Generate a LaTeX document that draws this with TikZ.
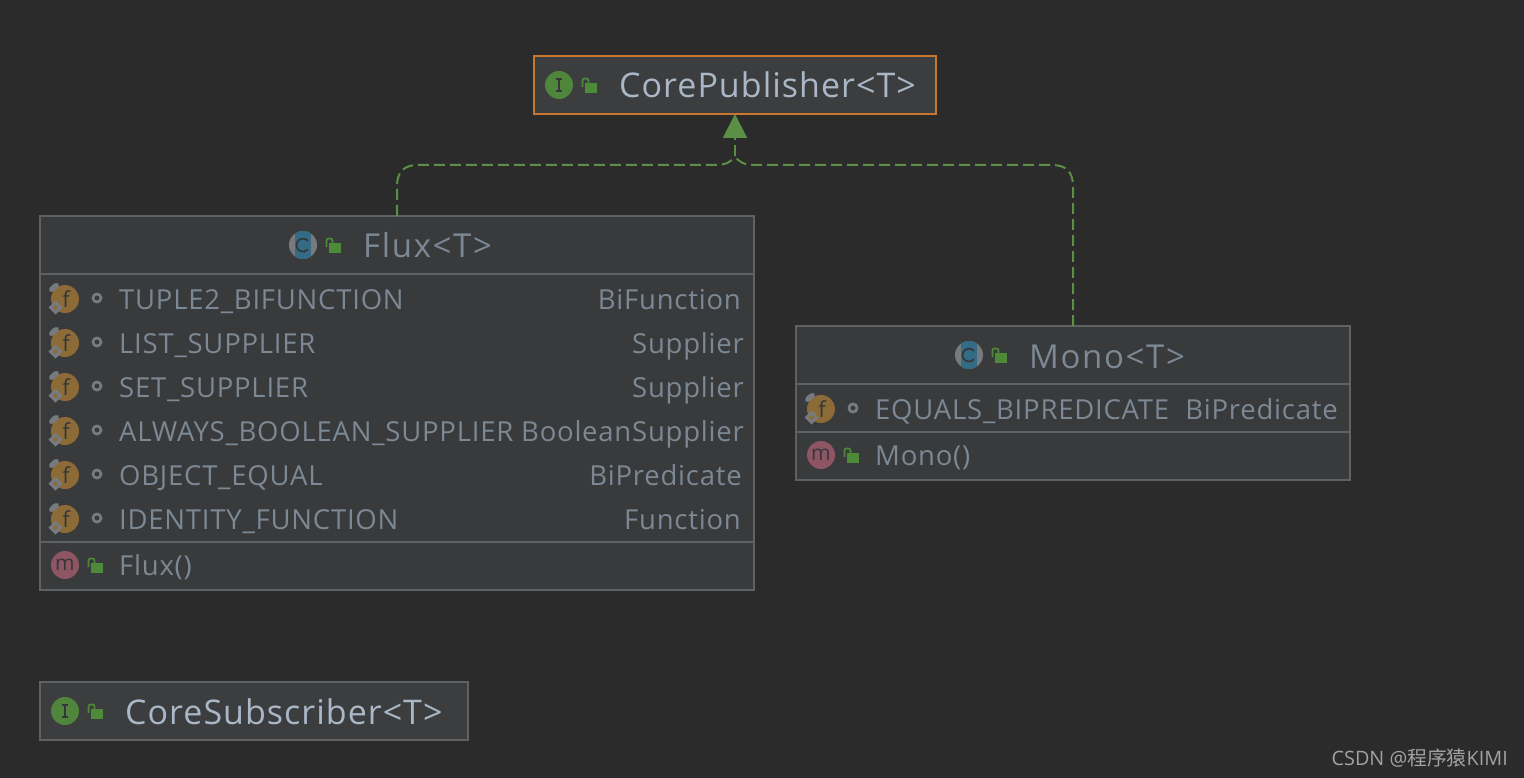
\documentclass[tikz,border=0pt]{standalone}
\usepackage{fontspec}
\usetikzlibrary{arrows.meta}
\newfontfamily\brightfont[LetterSpace=3]{Open Sans}
\newfontfamily\dimtitlefont[LetterSpace=5]{Open Sans}
\newfontfamily\rowfont[LetterSpace=2.8]{Open Sans}
\newfontfamily\wmfont{Open Sans}
\newfontfamily\cjkfont{Noto Sans CJK SC}
\definecolor{bgc}{HTML}{2B2B2B}
\definecolor{boxc}{HTML}{393A3C}
\definecolor{corec}{HTML}{3C3D3F}
\definecolor{edgec}{HTML}{5F6162}
\definecolor{orangec}{HTML}{C9772F}
\definecolor{titlec}{HTML}{A9B7C6}
\definecolor{dimc}{HTML}{7C8894}
\definecolor{greenc}{HTML}{5B8F45}
\definecolor{lockc}{HTML}{4F8A3A}
\definecolor{ifacec}{HTML}{4F863C}
\definecolor{fieldc}{HTML}{8C6B37}
\definecolor{methodc}{HTML}{8E5565}
\definecolor{classc}{HTML}{356C85}
\definecolor{iconink}{HTML}{35373A}
\definecolor{graybit}{HTML}{777A7E}
\definecolor{wmc}{HTML}{A2A2A2}
\tikzset{
  x=1pt,y=-1pt,
  umlbox/.style={draw=edgec,line width=2pt,fill=boxc,inner sep=0pt,outer sep=0pt},
  selbox/.style={draw=orangec,line width=2pt,fill=corec,inner sep=0pt,outer sep=0pt},
  plainbox/.style={draw=edgec,line width=2pt,fill=corec,inner sep=0pt,outer sep=0pt},
  sepline/.style={draw=edgec,line width=2pt},
  brighttitle/.style={inner sep=0pt,text=titlec,font=\brightfont\fontsize{34}{34}\selectfont},
  dimtitle/.style={inner sep=0pt,text=dimc,font=\dimtitlefont\fontsize{33}{33}\selectfont},
  rowtext/.style={inner sep=0pt,text=dimc,anchor=base west,font=\rowfont\fontsize{27.5}{27.5}\selectfont},
  typetext/.style={inner sep=0pt,text=dimc,anchor=base east,font=\rowfont\fontsize{27.5}{27.5}\selectfont},
  dep/.style={draw=greenc,line width=2pt,dash pattern=on 11pt off 5pt},
  deptip/.style={draw=greenc,line width=2pt,-{Triangle[length=24pt,width=24pt,fill=greenc]}},
}
% lock icon: (x,y) = centre reference of the padlock
\newcommand{\lockicon}[2]{%
  \fill[lockc] (#1-5,#2-4) rectangle (#1+7,#2+6);
  \draw[lockc,line width=1.7pt,rounded corners=2pt] (#1-7.5,#2+0) -- (#1-7.5,#2-8.5) -- (#1-1.5,#2-8.5) -- (#1-1.5,#2-4);
}
\newcommand{\fieldicon}[2]{%
  \fill[fieldc] (#1,#2) circle (14);
  \node[inner sep=0pt,text=iconink,font=\wmfont\fontsize{22}{22}\selectfont] at (#1+1,#2) {f};
  \fill[graybit,rotate around={40:(#1-11,#2-11.5)}] (#1-11,#2-11.5) ellipse (6 and 3);
  \fill[graybit] (#1-9.5,#2+1.5) -- (#1-2.5,#2+8.5) -- (#1-9.5,#2+15.5) -- (#1-16.5,#2+8.5) -- cycle;
  \fill[fieldc] (#1-9.5,#2+6) -- (#1-7,#2+8.5) -- (#1-9.5,#2+11) -- (#1-12,#2+8.5) -- cycle;
  \fill[graybit] (#1+32,#2-1) circle (5.5);
  \fill[boxc] (#1+32,#2-1) circle (2.4);
}
\newcommand{\methodicon}[2]{%
  \fill[methodc] (#1,#2) circle (14);
  \node[inner sep=0pt,text=iconink,font=\wmfont\fontsize{21}{21}\selectfont] at (#1,#2) {m};
}
\newcommand{\classicon}[2]{%
  \fill[graybit] (#1,#2) circle (14);
  \begin{scope}
    \clip (#1,#2) circle (14);
    \fill[classc] (#1-8,#2-14) rectangle (#1+8,#2+14);
  \end{scope}
  \draw[iconink,line width=1.8pt] (#1+5,#2-4) arc (-40:-320:6.5);
}
\newcommand{\ifaceicon}[2]{%
  \fill[ifacec] (#1,#2) circle (14);
  \draw[iconink,line width=1.8pt] (#1,#2-6) -- (#1,#2+6) (#1-3,#2-6) -- (#1+3,#2-6) (#1-3,#2+6) -- (#1+3,#2+6);
}
\begin{document}
\begin{tikzpicture}
\useasboundingbox (0,0) rectangle (1524,778);
\fill[bgc] (0,0) rectangle (1524,778);

% boxes
\node[selbox,minimum width=402pt,minimum height=58pt] (core) at (735,85) {};
\node[umlbox,minimum width=714pt,minimum height=374pt] (flux) at (397,403) {};
\node[umlbox,minimum width=554pt,minimum height=154pt] (mono) at (1073,403) {};
\node[plainbox,minimum width=428pt,minimum height=58pt] (sub) at (254,711) {};

% separators
\draw[sepline] (flux.west |- 0,274) -- (flux.east |- 0,274);
\draw[sepline] (flux.west |- 0,542) -- (flux.east |- 0,542);
\draw[sepline] (mono.west |- 0,384) -- (mono.east |- 0,384);
\draw[sepline] (mono.west |- 0,432) -- (mono.east |- 0,432);

% connectors
\coordinate (join) at (735,156);
\coordinate (stem) at (735,139);
\draw[dep] (flux.north) -- (397,186) .. controls (397,172) and (404,165) .. (418,165) -- (716,165) .. controls (725,165) and (732,162) .. (join);
\draw[dep] (mono.north) -- (1073,186) .. controls (1073,172) and (1066,165) .. (1052,165) -- (754,165) .. controls (745,165) and (738,162) .. (join);
\draw[dep] (join) -- (stem);
\draw[deptip] (stem) -- (core.south);

% CorePublisher
\ifaceicon{559}{85}
\lockicon{590}{87}
\node[brighttitle,anchor=base west] (coret) at (619,98) {CorePublisher<T>};

% Flux
\classicon{303}{245}
\lockicon{334}{247}
\node[dimtitle,anchor=base west] (fluxt) at (363,258) {Flux<T>};
\fieldicon{65}{299}
\fieldicon{65}{343}
\fieldicon{65}{387}
\fieldicon{65}{431}
\fieldicon{65}{475}
\fieldicon{65}{519}
\node[rowtext] (f1) at (119,309) {TUPLE2\_BIFUNCTION};
\node[rowtext] (f2) at (119,353) {LIST\_SUPPLIER};
\node[rowtext] (f3) at (119,397) {SET\_SUPPLIER};
\node[rowtext] (f4) at (119,441) {ALWAYS\_BOOLEAN\_SUPPLIER};
\node[rowtext] (f5) at (119,485) {OBJECT\_EQUAL};
\node[rowtext] (f6) at (119,529) {IDENTITY\_FUNCTION};
\node[typetext] (t1) at (741,309) {BiFunction};
\node[typetext] (t2) at (744,353) {Supplier};
\node[typetext] (t3) at (744,397) {Supplier};
\node[typetext] (t4) at (744,441) {BooleanSupplier};
\node[typetext] (t5) at (742,485) {BiPredicate};
\node[typetext] (t6) at (741,529) {Function};
\methodicon{65}{565}
\lockicon{96}{567}
\node[rowtext] (fm) at (119,575) {Flux()};

% Mono
\classicon{969}{355}
\lockicon{1000}{357}
\node[dimtitle,anchor=base west] (monot) at (1029,368) {Mono<T>};
\fieldicon{821}{409}
\node[rowtext] (g1) at (875,419) {EQUALS\_BIPREDICATE};
\node[typetext] (g2) at (1338,419) {BiPredicate};
\methodicon{821}{455}
\lockicon{852}{457}
\node[rowtext] (gm) at (875,465) {Mono()};

% CoreSubscriber
\ifaceicon{65}{711}
\lockicon{96}{713}
\node[brighttitle,anchor=base west] (subt) at (125,724) {CoreSubscriber<T>};

% watermark
\node[inner sep=0pt,anchor=base east,text=wmc,font=\wmfont\fontsize{19.8}{19.8}\selectfont] (wm) at (1508,765) {CSDN @{\cjkfont 程序猿}KIMI};
\end{tikzpicture}
\end{document}
